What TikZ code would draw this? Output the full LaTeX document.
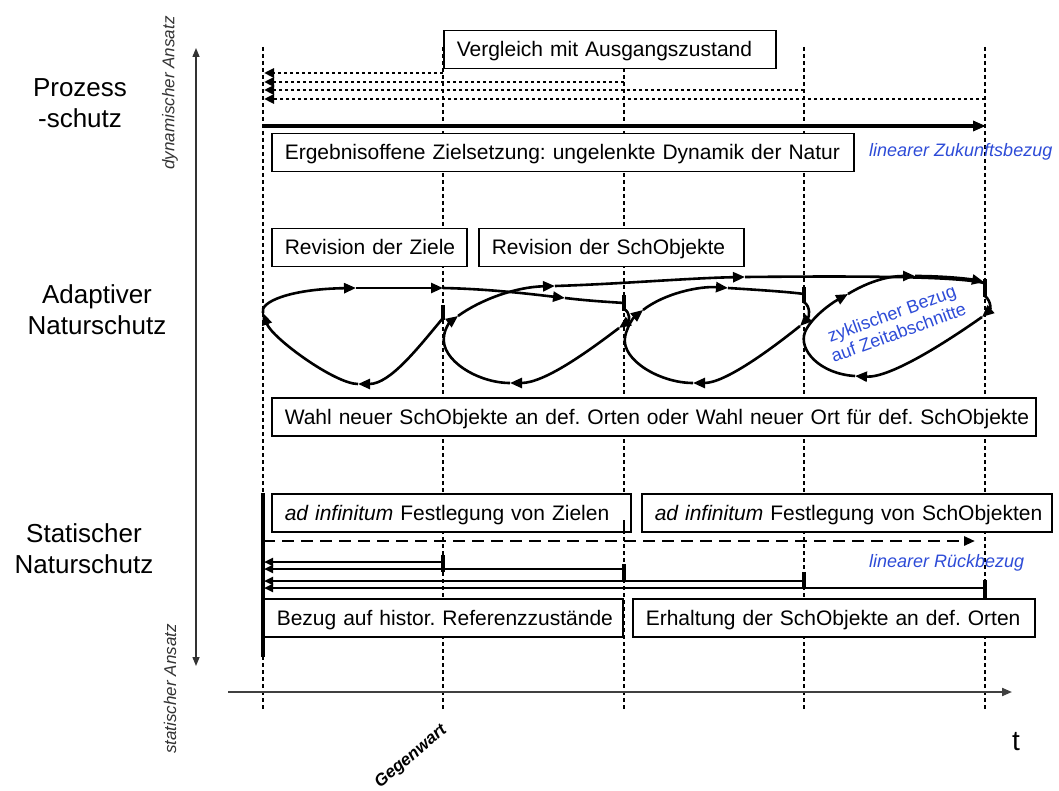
\documentclass[tikz,border=0pt]{standalone}
\usepackage{fontspec}
\setmainfont{Liberation Sans}
\usetikzlibrary{arrows.meta,calc}
\definecolor{lblue}{RGB}{45,75,215}
\newcommand{\fsz}[2]{\fontsize{#1}{#2}\selectfont}
\frenchspacing
\begin{document}
\frenchspacing
\begin{tikzpicture}[x=1pt,y=-1pt,
  vline/.style={line width=1.3pt, dash pattern=on 4pt off 3pt},
  box/.style={draw, fill=white, line width=1.5pt, inner xsep=13pt, inner ysep=0pt,
    text height=15pt, text depth=0.5pt,
    minimum height=38pt, anchor=north west, font=\fsz{21}{25}},
  lbl/.style={font=\fsz{26}{31}, align=center, inner sep=0pt},
  blab/.style={font=\fsz{18}{20}\itshape, text=lblue, anchor=west, inner sep=0pt},
  ansatz/.style={font=\fsz{17}{20}\itshape, text=black!80, rotate=90, inner sep=0pt},
  loopl/.style={line width=2.6pt},
  loopa/.style={line width=2.6pt, -{Triangle[length=12pt,width=10pt]}},
  tickm/.style={line width=4pt},
  dotarr/.style={line width=2.8pt, dash pattern=on 2.6pt off 3.4pt, -{Triangle[length=10pt,width=9pt]}},
  sarr/.style={line width=2.6pt, -{Triangle[length=9pt,width=8pt]}},
]
\useasboundingbox (0,0) rectangle (1059,791);

% time lines
\foreach \n/\x in {t0/263,t1/443,t2/624,t3/804,t4/985}{
  \coordinate (\n top) at (\x,47);
  \coordinate (\n bot) at (\x,710);
  \draw[vline] (\n top) -- (\n bot);
}

% axes
\coordinate (ya) at (196,48);
\coordinate (yb) at (196,666);
\draw[line width=1.4pt, black!80, {Triangle[length=9pt,width=7pt]}-{Triangle[length=9pt,width=7pt]}] (ya) -- (yb);
\coordinate (xa) at (228,692);
\coordinate (xb) at (1012,692);
\draw[line width=2pt, black!75, -{Triangle[length=10pt,width=8pt]}] (xa) -- (xb);

\node[ansatz] (dyn) at (170,93) {dynamischer Ansatz};
\node[ansatz] (sta) at (170,689) {statischer Ansatz};

\node[lbl] (proz) at (80,103) {Prozess\\-schutz};
\node[lbl] (adap) at (97,310) {Adaptiver\\Naturschutz};
\node[lbl] (stat) at (84,549) {Statischer\\Naturschutz};

\node[font=\fsz{28}{30}, inner sep=0pt] (t) at (1016,742) {t};
\node[font=\fsz{17}{19}\bfseries\itshape, rotate=40, inner sep=0pt] (geg) at (411,757) {Gegenwart};

% ---------- Prozessschutz ----------
\node[box, text width=306pt] (vgl) at (443,30) {\mbox{Vergleich mit Ausgangszustand}};
\foreach \n/\x/\y in {1/443/73,2/624/82,3/804/90,4/985/99}{
  \coordinate (ds\n) at (\x,\y);
  \coordinate (de\n) at (264,\y);
  \draw[dotarr] (ds\n) -- (de\n);
}
\coordinate (zs) at (263,126);
\coordinate (ze) at (986,126);
\draw[line width=3.2pt, -{Triangle[length=13pt,width=10pt]}] (zs) -- (ze);
\node[box, text width=556pt] (erg) at (271,133) {\mbox{Ergebnisoffene Zielsetzung: ungelenkte Dynamik der Natur}};
\node[blab] (zuk) at (869,152) {linearer Zukunftsbezug};

% ---------- Adaptiver Naturschutz ----------
\node[box, text width=169pt] (revz) at (271,228) {\mbox{Revision der Ziele}};
\node[box, text width=239pt] (revs) at (478,228) {\mbox{Revision der SchObjekte}};

% loop A
\draw[loopa] (443,318) .. controls (418,348) and (390,384) .. (358,384);
\draw[loopa] (358,384) .. controls (335,384) and (272,338) .. (263,313);
\draw[loopa] (263,313) .. controls (259,302) and (290,289) .. (356,288);
\draw[loopa] (356,288) -- (443,288);
\draw[loopa] (443,288) .. controls (490,289) and (530,294) .. (565,298);
\draw[loopl] (565,298) .. controls (590,301) and (610,302) .. (624,303);
% loop B
\draw[loopa] (624,309) .. controls (631,313) and (629,321) .. (619,328);
\draw[loopa] (619,328) .. controls (590,350) and (545,383) .. (510,383);
\draw[loopl] (510,383) .. controls (478,383) and (440,360) .. (444,336);
\draw[loopa] (444,336) .. controls (445,328) and (450,322) .. (458,316);
\draw[loopa] (458,316) .. controls (480,300) and (515,287) .. (555,286);
\draw[loopa] (555,286) .. controls (620,284) and (690,278) .. (745,277);
\draw[loopl] (745,277) .. controls (850,276) and (955,276) .. (984,283);
% loop C
\draw[loopa] (804,302) .. controls (811,307) and (809,317) .. (800,326);
\draw[loopa] (800,326) .. controls (770,350) and (725,383) .. (693,383);
\draw[loopl] (693,383) .. controls (660,383) and (621,360) .. (625,337);
\draw[loopa] (625,337) .. controls (627,327) and (633,318) .. (643,310);
\draw[loopa] (643,310) .. controls (665,293) and (700,286) .. (728,288);
\draw[loopl] (728,288) .. controls (760,290) and (790,292) .. (804,294);
% loop D
\draw[loopa] (985,296) .. controls (992,302) and (990,310) .. (982,317);
\draw[loopa] (982,317) .. controls (945,343) and (890,378) .. (855,376);
\draw[loopl] (855,376) .. controls (820,374) and (798,350) .. (805,332);
\draw[loopa] (805,332) .. controls (811,318) and (830,304) .. (848,294);
\draw[loopa] (848,294) .. controls (866,283) and (886,276) .. (915,276);
\draw[loopa] (915,276) .. controls (945,276) and (970,279) .. (984,282);
% ticks
\draw[tickm] (443,305) -- (443,320);
\draw[tickm] (624,295) -- (624,311);
\draw[tickm] (804,287) -- (804,303);
\draw[tickm] (985,279) -- (985,297);

\node[font=\fsz{18}{20}, text=lblue, align=center, rotate=20, inner sep=0pt] (zyk) at (895,323) {zyklischer Bezug\\auf Zeitabschnitte};

\node[box, text width=738pt] (wahl) at (271,397) {\mbox{Wahl neuer SchObjekte an def. Orten oder Wahl neuer Ort für def. SchObjekte}};

% ---------- Statischer Naturschutz ----------
\node[box, text width=333pt] (adz) at (271,493) {\mbox{\textit{ad infinitum} Festlegung von Zielen}};
\node[box, text width=384pt] (ads) at (641,493) {\mbox{\textit{ad infinitum} Festlegung von SchObjekten}};
\draw[line width=1.3pt] (624,520) -- (624,533);
\coordinate (rs) at (263,541);
\coordinate (re) at (975,541);
\draw[line width=2.8pt, dash pattern=on 12pt off 7pt, -{Triangle[length=11pt,width=9pt]}] (rs) -- (re);
\node[blab] (rueck) at (869,563) {linearer Rückbezug};
\foreach \n/\x/\y/\a/\b in {1/443/562/555/572,2/624/569/564/582,3/804/581/572/589,4/985/588/580/598}{
  \coordinate (ss\n) at (\x,\y);
  \coordinate (se\n) at (264,\y);
  \draw[sarr] (ss\n) -- (se\n);
  \draw[tickm] (\x,\a) -- (\x,\b);
}
\node[box, text width=333pt] (bez) at (263,598) {\mbox{Bezug auf histor. Referenzzustände}};
\node[box, text width=376pt] (erh) at (632,598) {\mbox{Erhaltung der SchObjekte an def. Orten}};
\coordinate (sa) at (263,493);
\coordinate (sb) at (263,657);
\draw[line width=4pt] (sa) -- (sb);
\end{tikzpicture}
\end{document}
